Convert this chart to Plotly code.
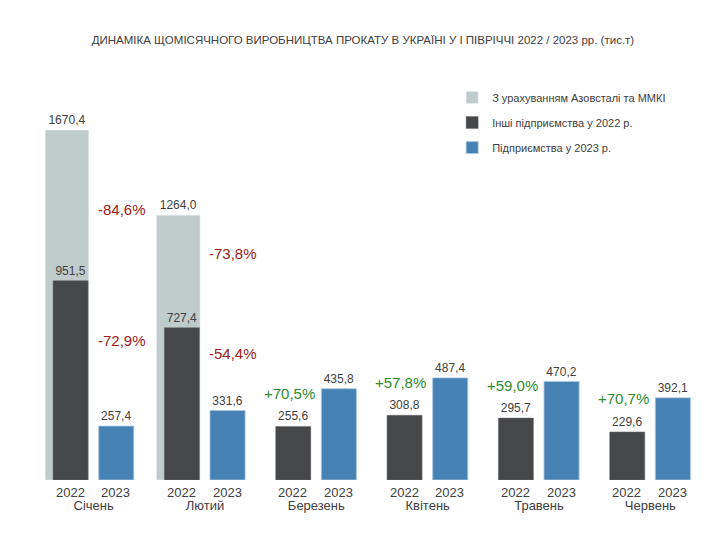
import plotly.graph_objects as go

months = ['Січень', 'Лютий', 'Березень', 'Квітень', 'Травень', 'Червень']
incl_azov_2022 = [1670.4, 1264.0, None, None, None, None]
other_2022 = [951.5, 727.4, 255.6, 308.8, 295.7, 229.6]
ent_2023 = [257.4, 331.6, 435.8, 487.4, 470.2, 392.1]
# change labels as printed on the original chart
drop_vs_total = ['-84,6%', '-73,8%']
drop_vs_other = ['-72,9%', '-54,4%']
growth = [None, None, '+70,5%', '+57,8%', '+59,0%', '+70,7%']
years = ['2022', '2023']

FONT = 'Liberation Sans Narrow, Arial Narrow, Liberation Sans, sans-serif'
TXT = '#404040'
C_GRAY = '#c0cbcb'
C_DARK = '#464749'
C_BLUE = '#4682b4'
RED = '#9c1a1a'
GREEN = '#2e8b2e'

fig = go.Figure()

fig.add_trace(go.Bar(
    x=months[:2], y=incl_azov_2022[:2], name='З урахуванням Азовсталі та ММКІ',
    legendgroup='a', marker=dict(color=C_GRAY), width=0.39, offset=-0.435,
    texttemplate='%{y:.1f}', textposition='outside', cliponaxis=False,
    textfont=dict(color=TXT, size=12, family=FONT)))

fig.add_trace(go.Bar(
    x=months, y=other_2022, name='Інші підприємства у 2022 р.', legendgroup='b',
    marker=dict(color=C_DARK, line=dict(color='#6a6b6d', width=0.5)),
    width=0.315, offset=-0.365,
    texttemplate='%{y:.1f}', textposition='outside', cliponaxis=False,
    textfont=dict(color=TXT, size=12, family=FONT)))

fig.add_trace(go.Bar(
    x=months, y=ent_2023, name='Підприємства у 2023 р.', legendgroup='c',
    marker=dict(color=C_BLUE, line=dict(color='#a9c4de', width=0.8)),
    width=0.315, offset=0.045,
    texttemplate='%{y:.1f}', textposition='outside', cliponaxis=False,
    textfont=dict(color=TXT, size=12, family=FONT)))

ann = []
# year labels under each pair of bars
for i in range(len(months)):
    for k, yr in enumerate(years):
        ann.append(dict(x=i - 0.21 + 0.41 * k, y=0, xref='x', yref='y', yshift=-12,
                        text=yr, showarrow=False,
                        font=dict(size=13, color=TXT, family=FONT)))

# red drop labels for January / February
red_y = [(1290, 664), (1083, 606)]
for i in range(2):
    for lbl, yy in zip((drop_vs_total[i], drop_vs_other[i]), red_y[i]):
        ann.append(dict(x=i + 0.25, y=yy, xref='x', yref='y', text=lbl,
                        showarrow=False, font=dict(size=15, color=RED, family=FONT)))

# green growth labels
for i, g in enumerate(growth):
    if g:
        ann.append(dict(x=i - 0.24, y=other_2022[i], xref='x', yref='y', yshift=33,
                        text=g, showarrow=False,
                        font=dict(size=15, color=GREEN, family=FONT)))

fig.update_layout(
    width=720, height=539,
    paper_bgcolor='white', plot_bgcolor='white',
    separators=', ',
    barmode='overlay',
    margin=dict(l=30, r=22, t=52, b=67),
    title=dict(text='ДИНАМІКА ЩОМІСЯЧНОГО ВИРОБНИЦТВА ПРОКАТУ В УКРАЇНІ У І ПІВРІЧЧІ 2022 / 2023 рр. (тис.т)',
               x=0.493, xanchor='center', y=0.94, yanchor='middle',
               font=dict(size=11.5, color=TXT, family=FONT)),
    legend=dict(x=0.62, y=0.945, xanchor='left', yanchor='top',
                bgcolor='rgba(0,0,0,0)', tracegroupgap=6,
                font=dict(size=11, color=TXT, family=FONT),
                itemwidth=30),
    xaxis=dict(showgrid=False, showline=False, zeroline=False, ticks='',
               tickfont=dict(size=13, color=TXT, family=FONT), ticklabelstandoff=16,
               range=[-0.5, 5.5]),
    yaxis=dict(visible=False, range=[0, 2005]),
    annotations=ann,
)

fig.write_html('out.html')
